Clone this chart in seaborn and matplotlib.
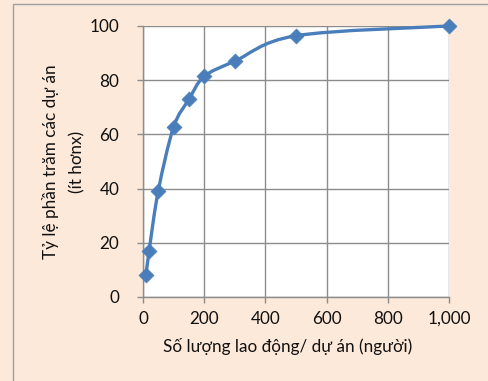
import numpy as np
import pandas as pd
import matplotlib
matplotlib.use("Agg")
import matplotlib.pyplot as plt
from matplotlib.path import Path
from matplotlib.patches import PathPatch, Rectangle
from matplotlib.ticker import FuncFormatter, MultipleLocator
import seaborn as sns

# Data: cumulative share of projects by workforce size
workers = [10, 20, 50, 100, 150, 200, 300, 500, 1000]
percent = [8.2, 17.0, 39.2, 62.7, 72.9, 81.4, 87.0, 96.4, 100.0]

x_label = "Số lượng lao động/ dự án (người)"
y_label = "Tỷ lệ phần trăm các dự án\n(ít hơnx)"

df = pd.DataFrame({"workers": workers, "percent": percent})

sns.set_style("white")
plt.rcParams["font.family"] = ["Lato", "DejaVu Sans"]

BG = "#FDE9D9"
LINE = "#4A7EBB"
GRID = "#8C8C8C"
TEXT = "#111111"

fig = plt.figure(figsize=(4.88, 3.81), dpi=100, facecolor=BG)
ax = fig.add_axes([0.293, 0.2205, 0.627, 0.7113])
ax.set_facecolor("white")

# outer frame of the chart area
fig.patches.append(Rectangle((13 / 488, -0.2), 1.2, 1.2 - 4 / 381,
                             transform=fig.transFigure, fill=False,
                             edgecolor="#A0A0A0", linewidth=1.0, zorder=0))

# smoothed curve through the points (Catmull-Rom style Bezier segments)
def smooth_path(xs, ys, ax):
    pts = ax.transData.transform(np.column_stack([xs, ys]))
    n = len(pts)
    verts = [pts[0]]
    codes = [Path.MOVETO]
    t = 1.0 / 6.0
    for i in range(n - 1):
        p0 = pts[i - 1] if i > 0 else pts[i]
        p1 = pts[i]
        p2 = pts[i + 1]
        p3 = pts[i + 2] if i + 2 < n else pts[i + 1]
        c1 = p1 + (p2 - p0) * t
        c2 = p2 - (p3 - p1) * t
        verts += [c1, c2, p2]
        codes += [Path.CURVE4] * 3
    inv = ax.transData.inverted()
    return Path(inv.transform(np.array(verts)), codes)

ax.set_xlim(0, 1000)
ax.set_ylim(0, 100)
fig.canvas.draw()
ax.add_patch(PathPatch(smooth_path(workers, percent, ax), facecolor="none",
                       edgecolor=LINE, linewidth=2.4, zorder=3,
                       capstyle="round", joinstyle="round", clip_on=False))

sns.scatterplot(data=df, x="workers", y="percent", marker="D", s=58,
                color=LINE, edgecolor=LINE, linewidth=0.5, ax=ax, zorder=4,
                clip_on=False)

ax.xaxis.set_major_locator(MultipleLocator(200))
ax.yaxis.set_major_locator(MultipleLocator(20))
ax.xaxis.set_major_formatter(FuncFormatter(lambda v, p: f"{int(v):,}"))
ax.grid(True, color=GRID, linewidth=1.0)
ax.set_axisbelow(True)
for side in ["top", "right"]:
    ax.spines[side].set_visible(False)
for side in ["left", "bottom"]:
    ax.spines[side].set_color(GRID)
    ax.spines[side].set_linewidth(1.0)

ax.tick_params(axis="both", which="major", length=4, width=1.0, color=GRID,
               labelsize=12.3, labelcolor=TEXT)
ax.tick_params(axis="y", pad=13, left=True)
ax.tick_params(axis="x", pad=6, bottom=True)

ax.set_xlabel(x_label, fontsize=12.3, color=TEXT)
ax.xaxis.set_label_coords(0.474, -0.15)
ax.set_ylabel(y_label, fontsize=12.3, color=TEXT, linespacing=1.75)
ax.yaxis.set_label_coords(-0.188, 0.5)

fig.savefig("out.png", dpi=100, facecolor=BG)
